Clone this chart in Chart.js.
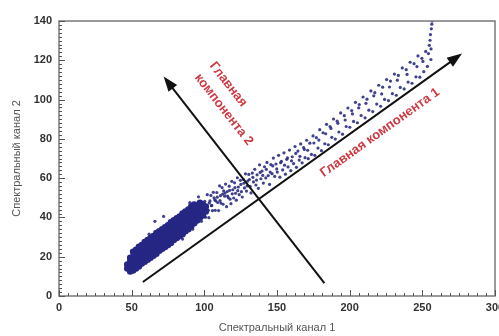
<!DOCTYPE html>
<html lang="ru">
<head>
<meta charset="UTF-8">
<title>Главные компоненты</title>
<script src="https://cdn.jsdelivr.net/npm/chart.js"></script>
<style>
  html, body { margin: 0; padding: 0; background: #fff; }
</style>
</head>
<body>
<canvas id="pcaChart" width="499" height="336"></canvas>
<script>
// axis ticks
var xTicks = [0, 50, 100, 150, 200, 250, 300];
var yTicks = [0, 20, 40, 60, 80, 100, 120, 140];

// dense core of the cloud (channel 1, channel 2)
var denseCloud = [
  [47,14],[47,16],
  [49,12.5],[49,15],[49,17.5],[49,19.5],
  [51,13],[51,15.5],[51,18],[51,20],[51,22.5],
  [53,14],[53,16.5],[53,19],[53,21],[53,23.5],
  [55,15],[55,17.5],[55,20],[55,22.5],[55,25],
  [57,16.5],[57,19],[57,21.5],[57,23.5],[57,26],
  [59,17.5],[59,20],[59,22.5],[59,25],[59,27.5],
  [61,18.5],[61,21],[61,23.5],[61,26],[61,28.5],
  [63,19.5],[63,22],[63,24.5],[63,27],[63,29.5],
  [65,20.5],[65,23],[65,25.5],[65,28],[65,30.5],
  [67,21.5],[67,24],[67,26.5],[67,29.5],[67,32],
  [69,23],[69,25.5],[69,28],[69,30.5],[69,33],
  [71,24],[71,26.5],[71,29],[71,31.5],[71,34],
  [73,25],[73,27.5],[73,30],[73,32.5],[73,35],
  [75,26],[75,28.5],[75,31],[75,33.5],[75,36],
  [77,27],[77,29.5],[77,32],[77,35],[77,37.5],
  [79,28.5],[79,31],[79,33.5],[79,36],[79,38.5],
  [81,29.5],[81,32],[81,34.5],[81,37],[81,39.5],
  [83,30.5],[83,33],[83,35.5],[83,38],[83,40.5],
  [85,31.5],[85,34],[85,36.5],[85,39.5],[85,42],
  [87,33],[87,35.5],[87,38],[87,40.5],[87,43],
  [89,34],[89,36.5],[89,39],[89,41.5],[89,44],
  [91,35.5],[91,38],[91,40.5],[91,43],[91,45.5],
  [93,37],[93,39.5],[93,42],[93,44],[93,46.5],
  [95,38.5],[95,41],[95,43.5],[95,46],
  [97,40],[97,42.5],[97,45],[97,47.5],
  [99,41],[99,44],[99,46.5],
  [101,43],[101,45.5]
];

// scattered points along the upper part of the cloud
var sparseCloud = [
  [100.3,48.2],[100.9,40.1],[101.6,46.0],[102.0,51.6],[102.8,43.6],[103.1,39.9],[103.9,48.4],[104.5,51.2],
  [104.9,46.0],[105.6,43.5],[106.2,52.8],[106.7,50.0],[107.5,43.6],[107.9,48.4],[108.6,52.7],[109.2,47.6],
  [109.8,43.5],[110.5,56.1],[111.1,51.1],[111.4,47.3],[112.2,55.2],[112.9,46.7],[113.3,53.5],[114.0,50.8],
  [114.6,57.0],[115.3,45.5],[115.8,53.2],[116.5,50.1],[117.1,55.9],[117.7,49.3],[118.3,47.0],[118.9,58.4],
  [119.6,54.1],[120.2,49.9],[120.8,57.6],[121.5,52.3],[122.0,48.8],[122.7,60.2],[123.4,55.5],[124.0,51.6],
  [124.8,58.9],[125.5,53.1],[126.1,50.4],[126.9,59.3],[127.6,55.0],[128.3,62.2],[129.0,53.4],[129.8,58.5],
  [130.6,61.9],[131.5,55.8],[132.1,52.5],[133.0,62.6],[133.8,58.1],[134.7,64.5],[135.5,56.5],[136.3,61.7],
  [137.2,54.8],[138.0,66.8],[138.9,59.7],[139.7,63.6],[140.6,57.5],[141.4,65.8],[142.3,60.1],[143.1,68.0],
  [144.0,61.3],[144.9,56.8],[145.8,66.9],[146.6,62.3],[147.5,70.2],[148.4,60.9],[149.3,67.2],[150.2,63.1],
  [151.1,71.6],[152.0,60.5],[153.0,68.5],[153.9,64.2],[154.8,72.9],[155.8,62.0],[156.7,69.6],[157.6,65.7],
  [158.6,74.3],[159.5,63.8],[160.5,70.9],[161.4,67.4],[162.4,76.1],[163.4,65.5],[164.4,73.8],[165.3,69.2],
  [166.3,77.4],[167.3,67.8],[168.3,75.6],[169.3,70.4],
  [170.4,79.3],[171.5,69.9],[172.6,77.8],[173.7,72.1],[174.8,81.5],[176.0,71.6],[177.1,80.6],[178.2,75.3],
  [179.4,84.7],[180.6,74.0],[181.7,83.1],[182.9,77.5],[184.1,87.4],[185.3,77.0],[186.5,86.3],[187.7,80.8],
  [188.9,90.1],[190.1,79.9],[191.4,89.0],[192.6,83.5],[193.8,93.2],[195.1,82.4],[196.3,91.8],[197.6,86.3],
  [198.8,95.7],[200.1,85.9],[201.4,94.4],[202.7,88.9],[204.0,98.6],[205.3,88.2],[206.6,97.5],[207.9,91.9],
  [209.2,101.3],
  [210.6,90.7],[211.9,100.2],[213.2,94.6],[214.6,104.4],[215.9,93.9],[217.3,103.5],[218.6,97.7],[220.0,107.3],
  [221.3,96.6],[222.7,106.3],[224.0,100.1],[225.4,110.2],[226.7,99.5],[228.1,109.4],[229.4,103.0],[230.8,113.0],
  [232.1,102.2],[233.5,112.3],[234.8,106.2],[236.2,116.1],[237.5,105.4],[238.9,115.2],[240.2,108.9],[241.6,119.0],
  [242.9,108.3],[244.3,118.3],[245.6,111.6],[247.0,122.2],[248.3,111.4],[249.7,121.0],[251.0,114.2],[252.3,124.5],
  [253.5,116.9],[254.2,123.4],[254.8,127.6],[255.3,130.2],[255.6,133.1],[256.0,125.8],[256.2,136.0],[256.5,138.4],
  [256.8,140],[255.9,120.4],
  // points near the middle of the band
  [101.2,45.0],[103.4,47.4],[105.1,46.1],[107.2,48.9],[108.9,50.3],[110.8,48.6],[112.6,51.9],[114.3,52.4],
  [116.0,50.9],[117.4,53.8],[119.2,52.0],[121.1,55.2],[123.0,53.6],[125.1,56.8],[127.2,57.4],[129.4,56.0],
  [131.0,59.3],[133.4,60.4],[135.9,59.0],[138.4,62.9],[140.2,61.4],[142.7,64.5],[145.3,63.1],[147.1,66.2],
  [149.8,64.7],[152.5,67.9],[155.2,66.6],[157.2,70.3],[160.0,68.8],[162.9,72.6],[165.8,71.1],[168.8,74.6],
  [171.1,74.2],[175.4,77.9],[178.8,79.4],[183.5,82.6],[187.1,85.3],[191.9,87.9],[196.9,89.6],[201.9,92.7],
  [206.2,95.8],[211.2,98.1],[216.6,101.9],[222.0,102.9],[227.4,106.4],[232.8,109.9],[239.5,112.8],[246.3,116.8],
  [250.4,119.4],
  // stray points around the core
  [66,38],[72,40.5],[62,31.5],[85,29],[92,34],[98,38],[96,50.5],[90,47.5]
];

// principal component arrows: [start, tip]
var pc1Arrow = [[57.7, 7.1], [277.3, 123.4]];
var pc2Arrow = [[182.6, 6.6], [72, 111.7]];
var pc1Text = ['Главная компонента 1'];
var pc2Text = ['Главная', 'компонента 2'];
var pc1TextAt = [220.9, 83.2];
var pc2TextAt = [105.3, 118.3];

function toPoints(list) {
  return list.map(function (p) { return { x: p[0], y: p[1] }; });
}

function drawArrow(ctx, x0, y0, x1, y1) {
  var ang = Math.atan2(y1 - y0, x1 - x0);
  var head = 15, half = 5.5;
  var c = Math.cos(ang), s = Math.sin(ang);
  ctx.beginPath();
  ctx.moveTo(x0, y0);
  ctx.lineTo(x1 - head * 0.8 * c, y1 - head * 0.8 * s);
  ctx.stroke();
  ctx.beginPath();
  ctx.moveTo(x1, y1);
  ctx.lineTo(x1 - head * c + half * s, y1 - head * s - half * c);
  ctx.lineTo(x1 - head * c - half * s, y1 - head * s + half * c);
  ctx.closePath();
  ctx.fill();
}

var overlay = {
  id: 'overlay',
  afterDatasetsDraw: function (chart) {
    var ctx = chart.ctx, xs = chart.scales.x, ys = chart.scales.y, a = chart.chartArea;
    ctx.save();
    // frame
    ctx.strokeStyle = '#7a7a7a';
    ctx.lineWidth = 1.5;
    ctx.strokeRect(a.left, a.top, a.right - a.left, a.bottom - a.top);
    // inward ticks
    ctx.strokeStyle = '#555';
    ctx.lineWidth = 1;
    ctx.beginPath();
    for (var v = 0; v <= 140; v += 2) {
      var py = Math.round(ys.getPixelForValue(v)) + 0.5;
      var len = (v % 20 === 0) ? 6 : 3;
      ctx.moveTo(a.left, py); ctx.lineTo(a.left + len, py);
    }
    for (var u = 0; u <= 300; u += 6.25) {
      var px = Math.round(xs.getPixelForValue(u)) + 0.5;
      var l2 = (u % 50 === 0) ? 6 : 3;
      ctx.moveTo(px, a.bottom); ctx.lineTo(px, a.bottom - l2);
    }
    ctx.stroke();

    // arrows
    ctx.strokeStyle = '#111';
    ctx.fillStyle = '#111';
    ctx.lineWidth = 2;
    [pc1Arrow, pc2Arrow].forEach(function (arr) {
      drawArrow(ctx,
        xs.getPixelForValue(arr[0][0]), ys.getPixelForValue(arr[0][1]),
        xs.getPixelForValue(arr[1][0]), ys.getPixelForValue(arr[1][1]));
    });

    // labels, rotated along the arrows
    ctx.fillStyle = 'rgb(206,58,68)';
    ctx.font = 'bold 13px "Liberation Sans", Arial, sans-serif';
    ctx.textBaseline = 'middle';

    var a1 = Math.atan2(ys.getPixelForValue(pc1Arrow[1][1]) - ys.getPixelForValue(pc1Arrow[0][1]),
                        xs.getPixelForValue(pc1Arrow[1][0]) - xs.getPixelForValue(pc1Arrow[0][0]));
    ctx.save();
    ctx.translate(xs.getPixelForValue(pc1TextAt[0]), ys.getPixelForValue(pc1TextAt[1]));
    ctx.rotate(a1);
    ctx.textAlign = 'center';
    ctx.fillText(pc1Text[0], 0, 0);
    ctx.restore();

    var a2 = Math.atan2(ys.getPixelForValue(pc2Arrow[0][1]) - ys.getPixelForValue(pc2Arrow[1][1]),
                        xs.getPixelForValue(pc2Arrow[0][0]) - xs.getPixelForValue(pc2Arrow[1][0]));
    ctx.save();
    ctx.translate(xs.getPixelForValue(pc2TextAt[0]), ys.getPixelForValue(pc2TextAt[1]));
    ctx.rotate(a2);
    ctx.textAlign = 'left';
    pc2Text.forEach(function (line, i) { ctx.fillText(line, 0, i * 19); });
    ctx.restore();

    ctx.restore();
  }
};

var tickFont = { family: '"Liberation Sans", Arial, sans-serif', size: 11, weight: 'bold' };
var titleFont = { family: '"Liberation Sans", Arial, sans-serif', size: 11 };

var ctx = document.getElementById('pcaChart').getContext('2d');
var pcaChart = new Chart(ctx, {
  type: 'scatter',
  data: {
    datasets: [{
      label: 'core',
      data: toPoints(denseCloud),
      backgroundColor: 'rgb(38,38,132)',
      pointRadius: 3.3,
      pointBorderWidth: 0
    }, {
      label: 'scatter',
      data: toPoints(sparseCloud),
      backgroundColor: 'rgba(42,46,128,0.9)',
      pointRadius: 1.6,
      pointBorderWidth: 0
    }]
  },
  options: {
    responsive: false,
    animation: false,
    events: [],
    layout: { padding: { left: 0, right: 4, top: 21, bottom: 0 } },
    plugins: { legend: { display: false }, tooltip: { enabled: false } },
    scales: {
      x: {
        type: 'linear', min: 0, max: 300,
        afterBuildTicks: function (s) { s.ticks = xTicks.map(function (v) { return { value: v }; }); },
        afterFit: function (s) { s.height = 40; s.paddingLeft = 0; s.paddingRight = 0; },
        grid: { display: false, drawTicks: false },
        border: { display: false },
        ticks: { font: tickFont, color: '#333', padding: 5, maxRotation: 0 },
        title: { display: true, text: 'Спектральный канал 1', font: titleFont, color: '#555', padding: { top: 0, bottom: 1 } }
      },
      y: {
        type: 'linear', min: 0, max: 140,
        afterBuildTicks: function (s) { s.ticks = yTicks.map(function (v) { return { value: v }; }); },
        afterFit: function (s) { s.width = 59; s.paddingTop = 0; s.paddingBottom = 0; },
        grid: { display: false, drawTicks: false },
        border: { display: false },
        ticks: { font: tickFont, color: '#333', padding: 7 },
        title: { display: true, text: 'Спектральный канал 2', font: titleFont, color: '#555', padding: { top: 10, bottom: 0 } }
      }
    }
  },
  plugins: [overlay]
});
</script>
</body>
</html>
